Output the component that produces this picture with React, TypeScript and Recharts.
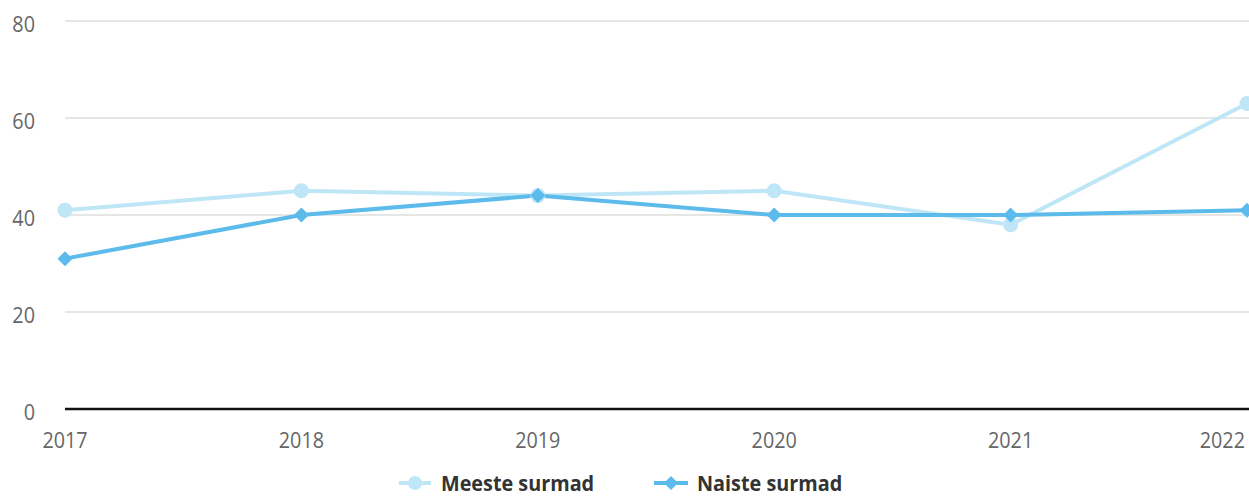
import React, { useLayoutEffect } from 'react';
import { LineChart, Line, XAxis, YAxis, CartesianGrid, Legend } from 'recharts';

const years = ['2017', '2018', '2019', '2020', '2021', '2022'];
const meesteSurmad = [41, 45, 44, 45, 38, 63];
const naisteSurmad = [31, 40, 44, 40, 40, 41];
const yTicks = [0, 20, 40, 60, 80];
const seriesNames = ['Meeste surmad', 'Naiste surmad'];

const MEN_COLOR = '#bfe6f6';
const WOMEN_COLOR = '#5cbbea';
const FONT = '"Open Sans", sans-serif';
const SX = 0.9;

const data = years.map((y, i) => ({ year: y, men: meesteSurmad[i], women: naisteSurmad[i] }));

const Diamond = (props: any) => {
  const { cx, cy } = props;
  if (cx == null || cy == null) return null;
  const r = 7.5;
  return <path d={`M${cx},${cy - r}L${cx + r},${cy}L${cx},${cy + r}L${cx - r},${cy}Z`} fill={WOMEN_COLOR} stroke="none" />;
};

const XTick = (props: any) => {
  const { x, y, payload, index } = props;
  const last = index === years.length - 1;
  return (
    <text
      transform={`translate(${last ? x - 2 : x},${y}) scale(${SX},1)`}
      x={0}
      y={0}
      dy={21}
      textAnchor={last ? 'end' : 'middle'}
      fill="#666"
      style={{ fontFamily: FONT, fontSize: 22 }}
    >
      {payload.value}
    </text>
  );
};

const YTick = (props: any) => {
  const { x, y, payload } = props;
  return (
    <text
      transform={`translate(${x - 1},${y}) scale(${SX},1)`}
      x={0}
      y={0}
      dy={10.5}
      textAnchor="end"
      fill="#666"
      style={{ fontFamily: FONT, fontSize: 22 }}
    >
      {payload.value}
    </text>
  );
};

const textStyle: React.CSSProperties = {
  position: 'absolute',
  top: 0,
  fontFamily: FONT,
  fontWeight: 700,
  fontSize: 22,
  color: '#333',
  lineHeight: '20px',
  whiteSpace: 'nowrap',
  transform: `scaleX(${SX})`,
  transformOrigin: 'left center',
};

const LegendContent = () => (
  <div style={{ position: 'relative', height: 40 }}>
    <div style={{ position: 'absolute', top: 15, left: 0, width: 1241, height: 20 }}>
      <svg width={34} height={16} style={{ position: 'absolute', left: 391, top: 3 }}>
        <line x1={0} y1={8} x2={32} y2={8} stroke={MEN_COLOR} strokeWidth={4} />
        <circle cx={16} cy={8} r={7} fill={MEN_COLOR} />
      </svg>
      <span style={{ ...textStyle, left: 433 }}>{seriesNames[0]}</span>
      <svg width={34} height={16} style={{ position: 'absolute', left: 646, top: 3 }}>
        <line x1={0} y1={8} x2={34} y2={8} stroke={WOMEN_COLOR} strokeWidth={4} />
        <path d="M17,1L24,8L17,15L10,8Z" fill={WOMEN_COLOR} />
      </svg>
      <span style={{ ...textStyle, left: 689 }}>{seriesNames[1]}</span>
    </div>
  </div>
);

export default function App() {
  useLayoutEffect(() => {
    document.body.style.margin = '0';
  }, []);
  return (
    <div style={{ position: 'relative', width: 1249, height: 497, overflow: 'hidden', background: '#fff' }}>
      <div style={{ position: 'absolute', left: 8, top: 8 }}>
        <LineChart width={1280} height={489} data={data} margin={{ top: 13, right: 0, bottom: 0, left: 0 }}>
          <CartesianGrid vertical={false} stroke="#e6e6e6" strokeWidth={2} />
          <XAxis
            dataKey="year"
            height={48}
            padding={{ left: 0, right: 41 }}
            axisLine={{ stroke: '#111', strokeWidth: 2.5 }}
            tickLine={false}
            tick={<XTick />}
            tickMargin={12}
            interval={0}
          />
          <YAxis
            width={57}
            domain={[0, 80]}
            ticks={yTicks}
            axisLine={false}
            tickLine={false}
            tick={<YTick />}
            tickMargin={23}
          />
          <Legend verticalAlign="bottom" height={40} content={<LegendContent />} />
          <Line
            dataKey="men"
            name={seriesNames[0]}
            stroke={MEN_COLOR}
            strokeWidth={4}
            dot={{ r: 7.5, fill: MEN_COLOR, stroke: 'none' }}
            activeDot={false}
            isAnimationActive={false}
          />
          <Line
            dataKey="women"
            name={seriesNames[1]}
            stroke={WOMEN_COLOR}
            strokeWidth={4}
            dot={<Diamond />}
            activeDot={false}
            isAnimationActive={false}
          />
        </LineChart>
      </div>
    </div>
  );
}
